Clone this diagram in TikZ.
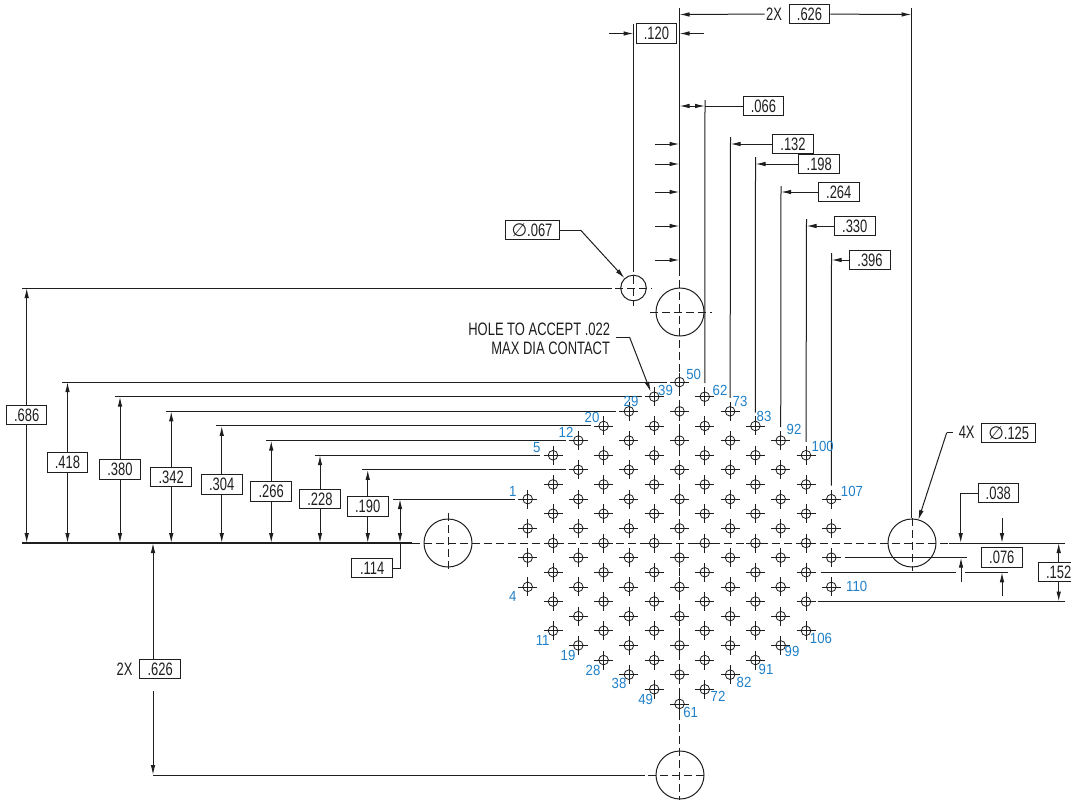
\documentclass[tikz,border=0pt]{standalone}
\usepackage{fontspec}
\setmainfont[FakeStretch=0.72]{Liberation Sans}
\newfontfamily\numfont[FakeStretch=0.9]{Liberation Sans}
\newfontfamily\symfont{DejaVu Sans}
\usetikzlibrary{arrows.meta}
\definecolor{ink}{HTML}{1E1E1E}
\definecolor{numblue}{HTML}{1F80C8}
\newcount\holeno
\tikzset{every picture/.style={line width=0.75pt}}
\tikzset{
  dimbox/.style={draw=ink,inner sep=0pt,minimum width=30.4pt,minimum height=14.6pt,font=\fontsize{13.5}{15}\selectfont,text=ink},
  widebox/.style={dimbox,minimum width=40.5pt},
  plaintext/.style={inner sep=0.75pt,font=\fontsize{13.5}{14.5}\selectfont,text=ink},
  holeno/.style={inner sep=0pt,font=\numfont\fontsize{11}{12}\selectfont,text=numblue},
  hole/.style={draw=ink,circle,inner sep=0pt,minimum size=7.2pt,line width=0.6pt},
  bighole/.style={draw=ink,circle,inner sep=0pt,minimum size=36pt},
  smallhole/.style={draw=ink,circle,inner sep=0pt,minimum size=19.2pt},
  extline/.style={draw=ink},
  centerline/.style={draw=ink,dash pattern=on 6pt off 3pt},
  tipped/.style={draw=ink,-{Latex[length=7.5pt,width=3.4pt]}},
  tippedboth/.style={draw=ink,{Latex[length=7.5pt,width=3.4pt]}-{Latex[length=7.5pt,width=3.4pt]}}
}

\begin{document}
\begin{tikzpicture}[x=0.75pt,y=0.75pt,yscale=-1,xscale=1]
\useasboundingbox (0,0) rectangle (1071,801);

% Contact holes, column by column
\foreach \k/\jtop in {-6/3,-5/6,-4/7,-3/8,-2/9,-1/10,0/11,1/10,2/9,3/8,4/7,5/6,6/3}{
  \pgfmathtruncatemacro{\jnext}{\jtop-2}
  \pgfmathtruncatemacro{\jlast}{-\jtop}
  \foreach \j in {\jtop,\jnext,...,\jlast}{
    \global\advance\holeno by 1
    \pgfmathsetmacro{\hx}{679.5+25.3*\k}
    \pgfmathsetmacro{\hy}{543-14.63*\j}
    \draw (\hx,\hy) node (h\the\holeno) [hole] {};
    \draw[line width=0.6pt,draw=ink] (\hx-9.5,\hy) -- (\hx+9.5,\hy) (\hx,\hy-9.5) -- (\hx,\hy+9.5);
  }
}

%Large holes
\draw (680,312) node (topbig) [bighole] {};
\draw (448,543) node (leftbig) [bighole] {};
\draw (912,543) node (rightbig) [bighole] {};
\draw (680,775) node (botbig) [bighole] {};
\draw (633.5,288) node (pinhole) [smallhole] {};

%Center lines
\draw[centerline] (412,543) -- (949,543);
\draw[centerline] (679.5,268) -- (679.5,800);
\draw[centerline] (650,312) -- (712,312);
\draw[centerline] (448,513) -- (448,573);
\draw[centerline] (912,518) -- (912,571);
\draw[centerline] (648,775) -- (708,775);
\draw[centerline] (633.5,264) -- (633.5,306);
\draw[centerline] (615,288) -- (652,288);

%Base line
\coordinate (base) at (0,543);
\draw[extline,line width=1.3pt] (22,543) -- (412,543);
\draw[extline] (949,543) -- (1065,543);

%Top extension lines
\draw[extline] (679.5,8) -- (679.5,268);
\draw[extline] (911.5,8) -- (911.5,518);
\draw[extline] (633.5,24) -- (633.5,264);
\foreach \xe/\ys/\hn in {705/100/62,730.5/137/73,755.5/157/83,781/186/92,806.5/219/100,831.5/253/107}{
  \draw[extline,shorten >=6.2pt] (\xe,\ys) -- (h\hn);
}

% Top dimension 2X
\coordinate (topl) at (679.5,14.5);
\coordinate (topr) at (911.5,14.5);
\draw (774,14) node (twox) [plaintext] {2X};
\draw (809.5,14) node (dtop) [dimbox] {.626};
\draw[tipped] (twox) -- (topl);
\draw[tipped] (dtop) -- (topr);

% Dimension .120
\draw (656.5,33.5) node (d120) [dimbox] {.120};
\coordinate (a120) at (609,33.5);
\coordinate (b120) at (704,33.5);
\draw[tipped] (a120) -- (633.5,33.5);
\draw[tipped] (b120) -- (679.5,33.5);

% Dimension .066
\draw (763.5,106) node (d066) [dimbox] {.066};
\draw[extline] (d066) -- (705,106);
\draw[tippedboth] (679.5,106) -- (705,106);

% Dimensions to the right of the center line
\foreach \yd/\xb/\xe/\val in {144/793/730.5/132,164/819.25/755.5/198,192/838.75/781/264,226/854.75/806.5/330,260/870/831.5/396}{
  \draw (\xb,\yd) node (d\val) [dimbox] {.\val};
  \draw[tipped] (d\val) -- (\xe,\yd);
  \draw[tipped] (655,\yd) -- (679.5,\yd);
}

% Diameter .067
\draw (532,230) node (pinbox) [widebox] {{\symfont ∅}.067};
\coordinate (pinknee) at (580.5,230);
\draw[extline] (pinbox) -- (pinknee);
\draw[tipped] (pinknee) -- (pinhole);

% Hole to accept note
\draw (611.5,338.5) node (note) [plaintext,anchor=east,align=right] {HOLE TO ACCEPT .022\\MAX DIA CONTACT};
\coordinate (noteknee) at (629.5,337);
\draw[extline] (615.5,337) -- (noteknee);
\draw[tipped] (noteknee) -- (650.7,391.7);

% Left dimensions
\draw[extline] (22,288) -- (611.5,288);
\draw (26.7,415) node (d686) [dimbox] {.686};
\draw[tipped] (d686) -- (26.7,288);
\draw[tipped] (d686) -- (26.7,543);
\foreach \xd/\ym/\hn/\val in {67.5/462.3/50/418,120/469.7/39/380,171.25/477/29/342,221.75/484.3/20/304,271.25/491.5/12/266,320/499/5/228,367.75/506.3/13/190}{
  \draw[extline,shorten >=5.5pt] (\xd-5.5,0 |- h\hn) -- (h\hn);
  \draw (\xd,\ym) node (d\val) [dimbox] {.\val};
  \draw[tipped] (d\val) -- (d\val |- h\hn);
  \draw[tipped] (d\val) -- (d\val |- base);
}
\draw[extline,shorten >=5.5pt] (393,0 |- h1) -- (h1);
\draw[tippedboth] (400,0 |- h1) -- (400,0 |- base);
\draw (372.25,568) node (d114) [dimbox] {.114};
\draw[extline] (d114) -| (400,543);

% Bottom dimension 2X
\draw (124.5,669) node (twoxb) [plaintext] {2X};
\draw (160.25,669) node (dbot) [dimbox] {.626};
\coordinate (botcorner) at (153,775);
\coordinate (botend) at (645,775);
\draw[tipped] (153,659) -- (153,0 |- base);
\draw[tipped] (153,691) -- (botcorner);
\draw[extline] (botcorner) -- (botend);

% Diameter .125
\draw (966.7,432.5) node (fourx) [plaintext] {4X};
\draw (1008.7,433) node (bigbox) [widebox] {{\symfont ∅}.125};
\coordinate (bigknee) at (946.7,432.7);
\draw[extline] (953,432.7) -- (bigknee);
\draw[tipped] (bigknee) -- (918.3,520);

% Right dimensions
\draw (998.3,493) node (d038) [dimbox] {.038};
\coordinate (k038) at (960.7,493);
\draw[extline] (d038) -- (k038);
\draw[tipped] (k038) -- (960.7,543);
\draw[tipped] (1002,518) -- (1002,543);
\draw (1001.8,557.3) node (d076) [dimbox] {.076};
\draw[extline,shorten <=6pt] (h109) -- (967,0 |- h109);
\draw[extline,shorten <=7pt] (h104) -- (956,0 |- h104);
\draw[extline] (965,0 |- h104) -- (1008,0 |- h104);
\draw[extline,shorten <=4.8pt] (h105) -- (1065,0 |- h105);
\draw[tipped] (961,582) -- (961,0 |- h109);
\draw[tipped] (1002,596) -- (1002,0 |- h104);
\draw (1058.7,572.2) node (d152) [dimbox] {.152};
\draw[tipped] (d152) -- (1058.7,543);
\draw[tipped] (d152) -- (1058.7,0 |- h105);

% Hole numbers
\foreach \xn/\yn/\val in {512.7/491/1,512.7/596.7/4,536.7/448/5,542.7/640/11,566/432/12,568/655/19,592/417/20,593/670/28,631/401.7/29,619/683/38,665.5/390/39,645.7/699/49,693.7/374/50,690.7/712/61,720/390/62,718/696/72,740/401.7/73,744/682/82,764/416.7/83,766/669/91,794/429/92,792/651/99,822.7/446.7/100,821/638/106,852/491.7/107,856.7/586/110}{
  \draw (\xn,\yn) node (n\val) [holeno] {\val};
}

\end{tikzpicture}
\end{document}
